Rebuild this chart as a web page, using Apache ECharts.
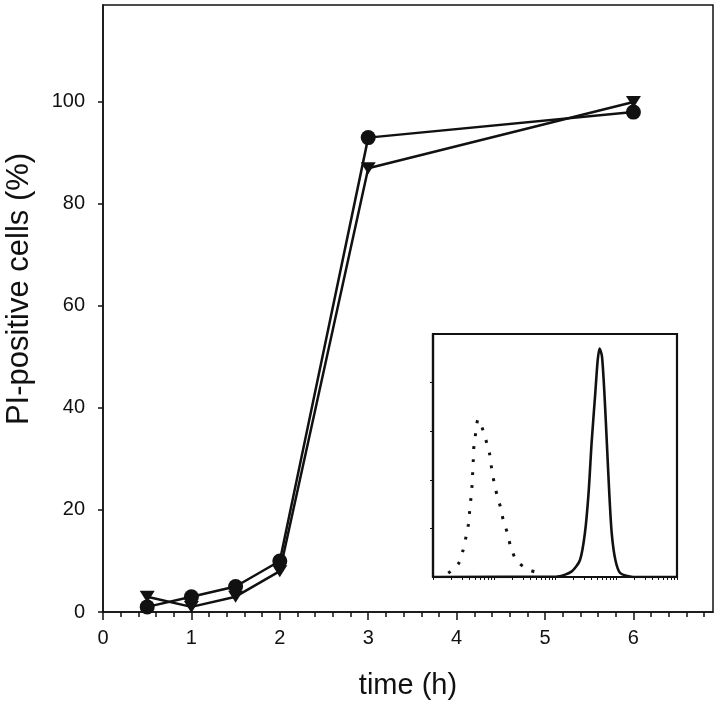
<!DOCTYPE html>
<html>
<head>
<meta charset="utf-8">
<script src="https://cdn.jsdelivr.net/npm/echarts@6/dist/echarts.min.js"></script>
<style>
html,body{margin:0;padding:0;background:#fff;}
#chart{width:720px;height:708px;}
</style>
</head>
<body>
<div id="chart"></div>
<script>
// Main time course
const timeHours = [0.5, 1, 1.5, 2, 3, 6];
const circleValues = [1, 3, 5, 10, 93, 98];
const triangleValues = [3, 1, 3, 8, 87, 100];
const xTickLabels = [0, 1, 2, 3, 4, 5, 6];
const yTickLabels = [0, 20, 40, 60, 80, 100];

// Inset histogram (x in log10 decades of fluorescence, y in counts)
const dottedDecades = [0.25, 0.42, 0.49, 0.54, 0.58, 0.60, 0.62, 0.64, 0.65, 0.66, 0.67, 0.70, 0.74, 0.82, 0.88, 0.93, 0.96, 1.00, 1.05, 1.11, 1.15, 1.22, 1.27, 1.36, 1.52, 1.73];
const dottedCounts  = [4, 14, 27, 41, 54, 67, 80, 94, 107, 120, 134, 148, 162, 151, 138, 126, 112, 98, 84, 71, 59, 45, 32, 18, 9, 4];
const solidDecades = [0, 2.03, 2.27, 2.41, 2.49, 2.55, 2.60, 2.66, 2.70, 2.73, 2.77, 2.81, 2.85, 2.89, 2.93, 2.99, 3.07, 3.28, 4];
const solidCounts  = [0, 0.5, 5.5, 17.5, 45, 86, 138, 189, 223, 235, 227, 189, 138, 86, 45, 17.5, 4, 0, 0];
const insetYTicks = [50, 100, 150, 200];

const zip = (a, b) => a.map((v, i) => [v, b[i]]);
const mainMinor = [];
for (let i = 1; i <= 34; i++) { if (i % 5 !== 0) mainMinor.push(+(i * 0.2).toFixed(1)); }
const insetXTicks = [];
for (let n = 0; n < 4; n++) { for (let k = 1; k <= 9; k++) insetXTicks.push(n + Math.log10(k)); }
insetXTicks.push(4);

const black = '#111';
const FONT = 'Liberation Sans, Arial, sans-serif';

const chart = echarts.init(document.getElementById('chart'), null, {renderer: 'canvas'});
chart.setOption({
  backgroundColor: '#fff',
  animation: false,
  grid: [
    {left: 103, top: 5, width: 610, height: 607, show: true, borderColor: black, borderWidth: 1.5, backgroundColor: 'transparent'},
    {left: 433, top: 334, width: 244, height: 243, show: true, borderColor: black, borderWidth: 2.2, backgroundColor: '#fff'}
  ],
  xAxis: [
    {
      type: 'value', gridIndex: 0, position: 'bottom', min: 0, max: 6.9, interval: 1,
      axisLine: {lineStyle: {color: black, width: 1.5}},
      axisTick: {customValues: xTickLabels, length: 8, lineStyle: {color: black, width: 1.5}},
      axisLabel: {customValues: xTickLabels, margin: 16, color: black, fontSize: 20, fontFamily: FONT},
      splitLine: {show: false},
      name: 'time (h)', nameLocation: 'middle', nameGap: 59,
      nameTextStyle: {color: black, fontSize: 29, fontFamily: FONT}
    },
    {
      type: 'value', gridIndex: 0, position: 'bottom', min: 0, max: 6.9, interval: 1,
      axisLine: {show: false},
      axisTick: {customValues: mainMinor, length: 5, lineStyle: {color: black, width: 1.5}},
      axisLabel: {show: false},
      splitLine: {show: false}
    },
    {
      type: 'value', gridIndex: 1, position: 'bottom', min: 0, max: 4, interval: 1,
      axisLine: {lineStyle: {color: black, width: 2.2}},
      axisTick: {customValues: insetXTicks, length: 3, lineStyle: {color: black, width: 1}},
      axisLabel: {show: false},
      splitLine: {show: false}
    }
  ],
  yAxis: [
    {
      type: 'value', gridIndex: 0, min: 0, max: 119, interval: 20,
      axisLine: {lineStyle: {color: black, width: 1.5}},
      axisTick: {customValues: yTickLabels, length: 5, lineStyle: {color: black, width: 1.5}},
      axisLabel: {customValues: yTickLabels, margin: 18, color: black, fontSize: 20, fontFamily: FONT},
      splitLine: {show: false}
    },
    {
      type: 'value', gridIndex: 1, min: 0, max: 250, interval: 50,
      axisLine: {lineStyle: {color: black, width: 2.2}},
      axisTick: {customValues: insetYTicks, length: 3, lineStyle: {color: black, width: 1}},
      axisLabel: {show: false},
      splitLine: {show: false}
    }
  ],
  graphic: [
    {
      type: 'text', x: 19, y: 289, rotation: Math.PI / 2,
      style: {text: 'PI-positive cells (%)', fill: black, font: '31px ' + FONT, textAlign: 'center', textVerticalAlign: 'middle'}
    }
  ],
  series: [
    {
      type: 'line', xAxisIndex: 0, yAxisIndex: 0, data: zip(timeHours, circleValues),
      symbol: 'circle', symbolSize: 15, itemStyle: {color: black},
      lineStyle: {color: black, width: 2.5}, z: 3
    },
    {
      type: 'line', xAxisIndex: 0, yAxisIndex: 0, data: zip(timeHours, triangleValues),
      symbol: 'triangle', symbolRotate: 180, symbolSize: [15, 12], itemStyle: {color: black},
      lineStyle: {color: black, width: 2.5}, z: 4
    },
    {
      type: 'line', xAxisIndex: 2, yAxisIndex: 1, data: zip(dottedDecades, dottedCounts),
      symbol: 'none', smooth: 0.3,
      lineStyle: {color: black, width: 3, type: [3, 10]}, z: 5
    },
    {
      type: 'line', xAxisIndex: 2, yAxisIndex: 1, data: zip(solidDecades, solidCounts),
      symbol: 'none', smooth: 0.25,
      lineStyle: {color: black, width: 2.6}, z: 5
    }
  ]
});
</script>
</body>
</html>
